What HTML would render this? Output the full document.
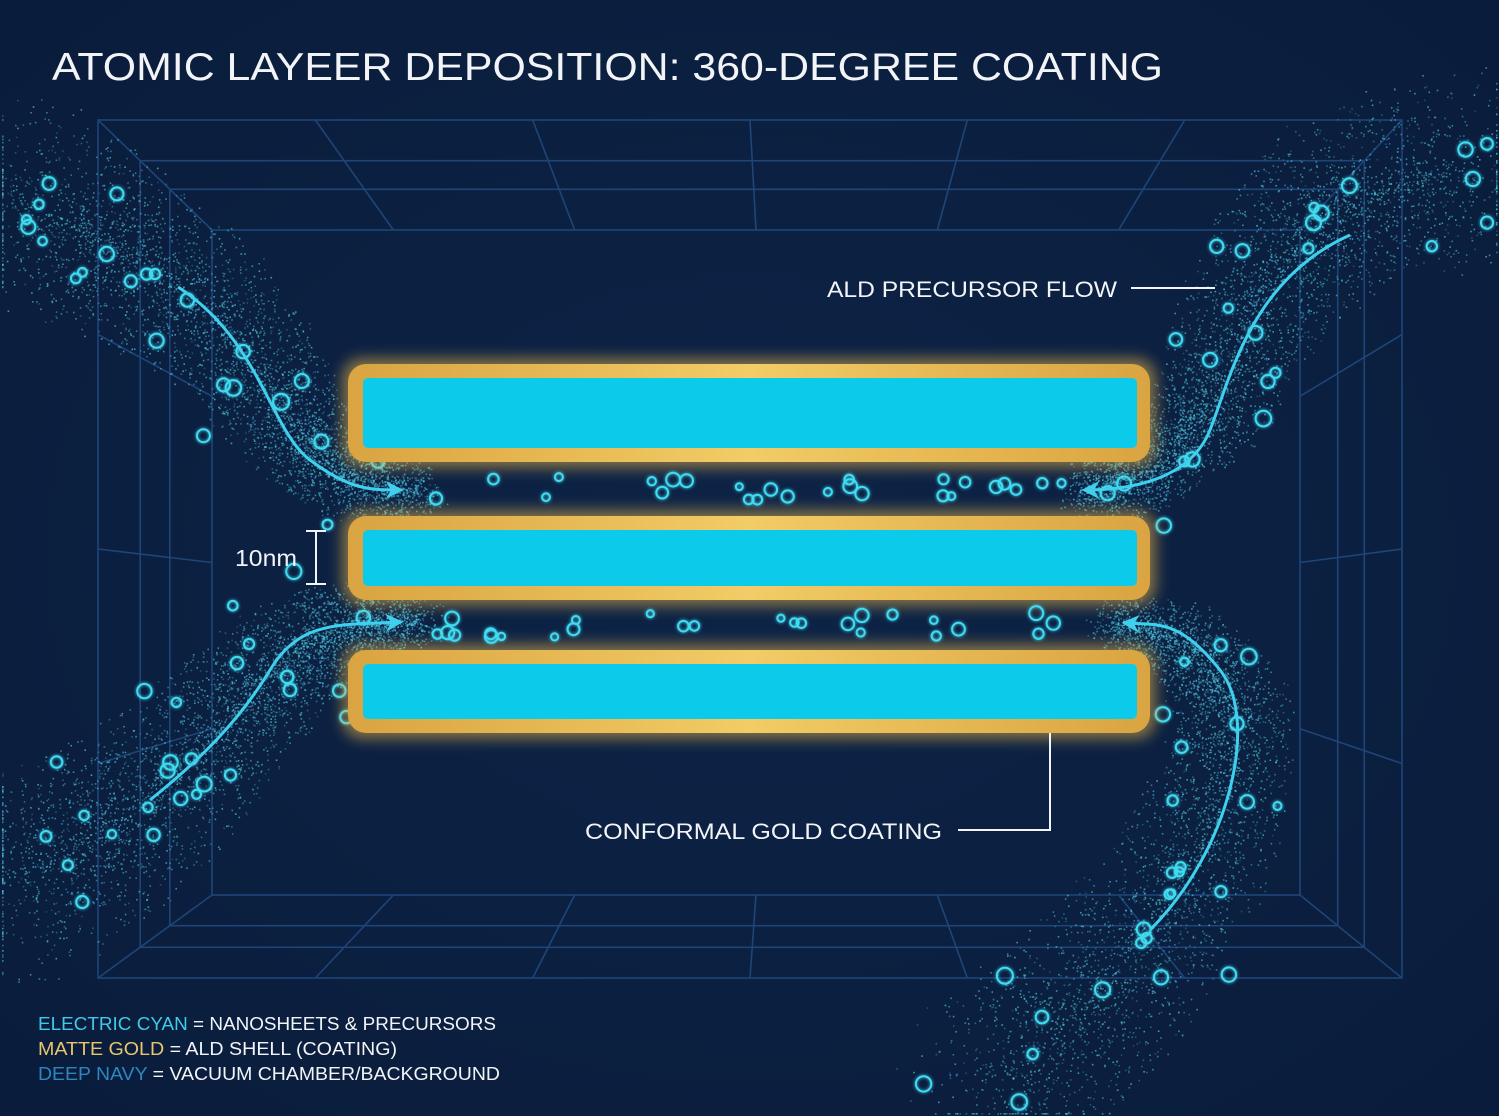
<!DOCTYPE html>
<html><head><meta charset="utf-8"><style>
html,body{margin:0;padding:0;background:#0b1f3f;width:1499px;height:1116px;overflow:hidden;}
svg{display:block;overflow:hidden}
</style></head><body>
<svg id="s" width="1499" height="1116" viewBox="0 0 1499 1116" xmlns="http://www.w3.org/2000/svg">
<defs>
<radialGradient id="bg" cx="50%" cy="50%" r="70%"><stop offset="0" stop-color="#0d2447"/><stop offset="1" stop-color="#0a1c3b"/></radialGradient>
<linearGradient id="gold" x1="0" y1="0" x2="1" y2="0"><stop offset="0" stop-color="#d9a441"/><stop offset="0.5" stop-color="#f2cc66"/><stop offset="1" stop-color="#d9a441"/></linearGradient>
<filter id="glow" x="-20%" y="-50%" width="140%" height="200%"><feGaussianBlur stdDeviation="7"/></filter>
<filter id="cg" x="-50%" y="-50%" width="200%" height="200%"><feGaussianBlur stdDeviation="1.5" result="b"/><feMerge><feMergeNode in="b"/><feMergeNode in="SourceGraphic"/></feMerge></filter>
<filter id="haze"><feGaussianBlur stdDeviation="25"/></filter>
<clipPath id="clip"><rect width="1499" height="1116"/></clipPath>
<marker id="ah" viewBox="0 0 10 10" refX="8" refY="5" markerWidth="6" markerHeight="6" orient="auto"><path d="M0,0 L10,5 L0,10 L3,5z" fill="#3fd0ee"/></marker>
</defs>
<g clip-path="url(#clip)">
<rect width="1499" height="1116" fill="url(#bg)"/>
<g id="grid" stroke="#1f4a7e" stroke-width="1.6" fill="none" opacity="0.9"></g>
<g id="haze" filter="url(#haze)" fill="#1d6a8f" opacity="0.35"></g>
<g id="dust"></g>
<g id="rings" fill="none" stroke="#3fdcf2" stroke-width="2" filter="url(#cg)"></g>
<g fill="none" stroke="#3fd0ee" stroke-width="3" marker-end="url(#ah)">
<path d="M178,287 C260,340 270,430 310,460 S370,490 400,490"/>
<path d="M1350,235 C1250,280 1230,380 1210,430 S1130,490 1085,490"/>
<path d="M150,800 C200,760 240,720 270,670 S340,625 400,622"/>
<path d="M1150,930 C1230,850 1260,720 1220,670 S1160,625 1125,623"/>
</g>
<g filter="url(#glow)" fill="#e8b64a" opacity="0.55">
<rect x="342" y="358" width="814" height="110" rx="20"/>
<rect x="342" y="510" width="814" height="96" rx="20"/>
<rect x="342" y="644" width="814" height="95" rx="20"/>
</g>
<g fill="url(#gold)">
<rect x="348" y="364" width="802" height="98" rx="18"/>
<rect x="348" y="516" width="802" height="84" rx="18"/>
<rect x="348" y="650" width="802" height="83" rx="18"/>
</g>
<g fill="#0ccbea">
<rect x="363" y="378" width="774" height="70" rx="5"/>
<rect x="363" y="530" width="774" height="56" rx="5"/>
<rect x="363" y="664" width="774" height="55" rx="5"/>
</g>
<g id="gap" fill="none" stroke="#3fdcf2" stroke-width="2" filter="url(#cg)"></g>
<g font-family="Liberation Sans, sans-serif" fill="#f2f4f8">
<text x="52" y="80" font-size="39" textLength="1111" lengthAdjust="spacingAndGlyphs">ATOMIC LAYEER DEPOSITION: 360-DEGREE COATING</text>
<text x="827" y="297" font-size="22" textLength="290" lengthAdjust="spacingAndGlyphs">ALD PRECURSOR FLOW</text>
<text x="585" y="839" font-size="22" textLength="357" lengthAdjust="spacingAndGlyphs">CONFORMAL GOLD COATING</text>
<text x="235" y="566" font-size="23" textLength="62" lengthAdjust="spacingAndGlyphs">10nm</text>
<g font-size="18">
<text x="38" y="1030" textLength="458" lengthAdjust="spacingAndGlyphs"><tspan fill="#41c9ea">ELECTRIC CYAN</tspan> = NANOSHEETS &amp; PRECURSORS</text>
<text x="38" y="1055" textLength="359" lengthAdjust="spacingAndGlyphs"><tspan fill="#e7c66e">MATTE GOLD</tspan> = ALD SHELL (COATING)</text>
<text x="38" y="1080" textLength="462" lengthAdjust="spacingAndGlyphs"><tspan fill="#2d86c0">DEEP NAVY</tspan> = VACUUM CHAMBER/BACKGROUND</text>
</g>
</g>
<g stroke="#f2f4f8" stroke-width="2" fill="none">
<line x1="1131" y1="288" x2="1215" y2="288"/>
<polyline points="958,830 1050,830 1050,733"/>
<line x1="316" y1="531" x2="316" y2="584"/><line x1="306" y1="531" x2="326" y2="531"/><line x1="306" y1="584" x2="326" y2="584"/>
</g>
</g>
</svg>
<script>
var NS="http://www.w3.org/2000/svg";
function el(p,t,a){var e=document.createElementNS(NS,t);for(var k in a)e.setAttribute(k,a[k]);p.appendChild(e);return e;}
var seed=7;function r(){seed=(seed*16807)%2147483647;return (seed-1)/2147483646;}
function cl(v,m){return Math.max(2,Math.min(m-3,v));}
var g=document.getElementById('grid');
var O=[98,120,1402,978],I=[212,230,1300,895];
function lerp(a,b,t){return a+(b-a)*t;}
[0,0.37,0.63,1].forEach(function(t){var x1=lerp(O[0],I[0],t),y1=lerp(O[1],I[1],t),x2=lerp(O[2],I[2],t),y2=lerp(O[3],I[3],t);
el(g,'rect',{x:x1,y:y1,width:x2-x1,height:y2-y1});});
el(g,'line',{x1:O[0],y1:O[1],x2:I[0],y2:I[1]});el(g,'line',{x1:O[2],y1:O[1],x2:I[2],y2:I[1]});
el(g,'line',{x1:O[0],y1:O[3],x2:I[0],y2:I[3]});el(g,'line',{x1:O[2],y1:O[3],x2:I[2],y2:I[3]});
for(var i=1;i<6;i++){var t=i/6;
el(g,'line',{x1:lerp(O[0],O[2],t),y1:O[1],x2:lerp(I[0],I[2],t),y2:I[1]});
el(g,'line',{x1:lerp(O[0],O[2],t),y1:O[3],x2:lerp(I[0],I[2],t),y2:I[3]});}
for(var i=1;i<4;i++){var t=i/4;
el(g,'line',{x1:O[0],y1:lerp(O[1],O[3],t),x2:I[0],y2:lerp(I[1],I[3],t)});
el(g,'line',{x1:O[2],y1:lerp(O[1],O[3],t),x2:I[2],y2:lerp(I[1],I[3],t)});}
var streams=[
[[20,200],[120,250],[220,320],[290,420],[340,475],[420,492]],
[[1470,170],[1340,200],[1260,290],[1215,400],[1150,470],[1080,492]],
[[20,880],[120,820],[220,730],[285,655],[350,625],[420,620]],
[[1000,1080],[1110,980],[1200,850],[1240,720],[1190,645],[1110,622]]];
var dust=document.getElementById('dust'),rings=document.getElementById('rings'),haze=document.getElementById('haze');
streams.forEach(function(p,si){
 for(var j=0;j<p.length-1;j++){el(haze,'circle',{cx:p[j][0],cy:p[j][1],r:60});}
 for(var k=0;k<4200;k++){var u=r()*(p.length-1),j=Math.floor(u),f=u-j;
  var x=lerp(p[j][0],p[j+1][0],f),y=lerp(p[j][1],p[j+1][1],f);
  var sp=lerp(110,30,u/(p.length-1));var a=r()*6.283,d=Math.pow(r(),0.9)*sp;
  el(dust,'rect',{x:cl(x+Math.cos(a)*d,1499).toFixed(1),y:cl(y+Math.sin(a)*d,1116).toFixed(1),width:1.6,height:1.6,fill:'#4fc7e0',opacity:(0.25+r()*0.5).toFixed(2)});}
 for(var k=0;k<26;k++){var u=r()*(p.length-1.6),j=Math.floor(u),f=u-j;
  var x=lerp(p[j][0],p[j+1][0],f),y=lerp(p[j][1],p[j+1][1],f);var a=r()*6.283,d=r()*100;
  el(rings,'circle',{cx:cl(x+Math.cos(a)*d,1490).toFixed(1),cy:cl(y+Math.sin(a)*d,1105).toFixed(1),r:(4+r()*4).toFixed(1)});}
});
var gap=document.getElementById('gap');
[489,625].forEach(function(c){for(var k=0;k<26;k++){el(gap,'circle',{cx:(430+r()*640).toFixed(1),cy:(c-12+r()*24).toFixed(1),r:(3.5+r()*3.5).toFixed(1)});}});
</script>
</body></html>
